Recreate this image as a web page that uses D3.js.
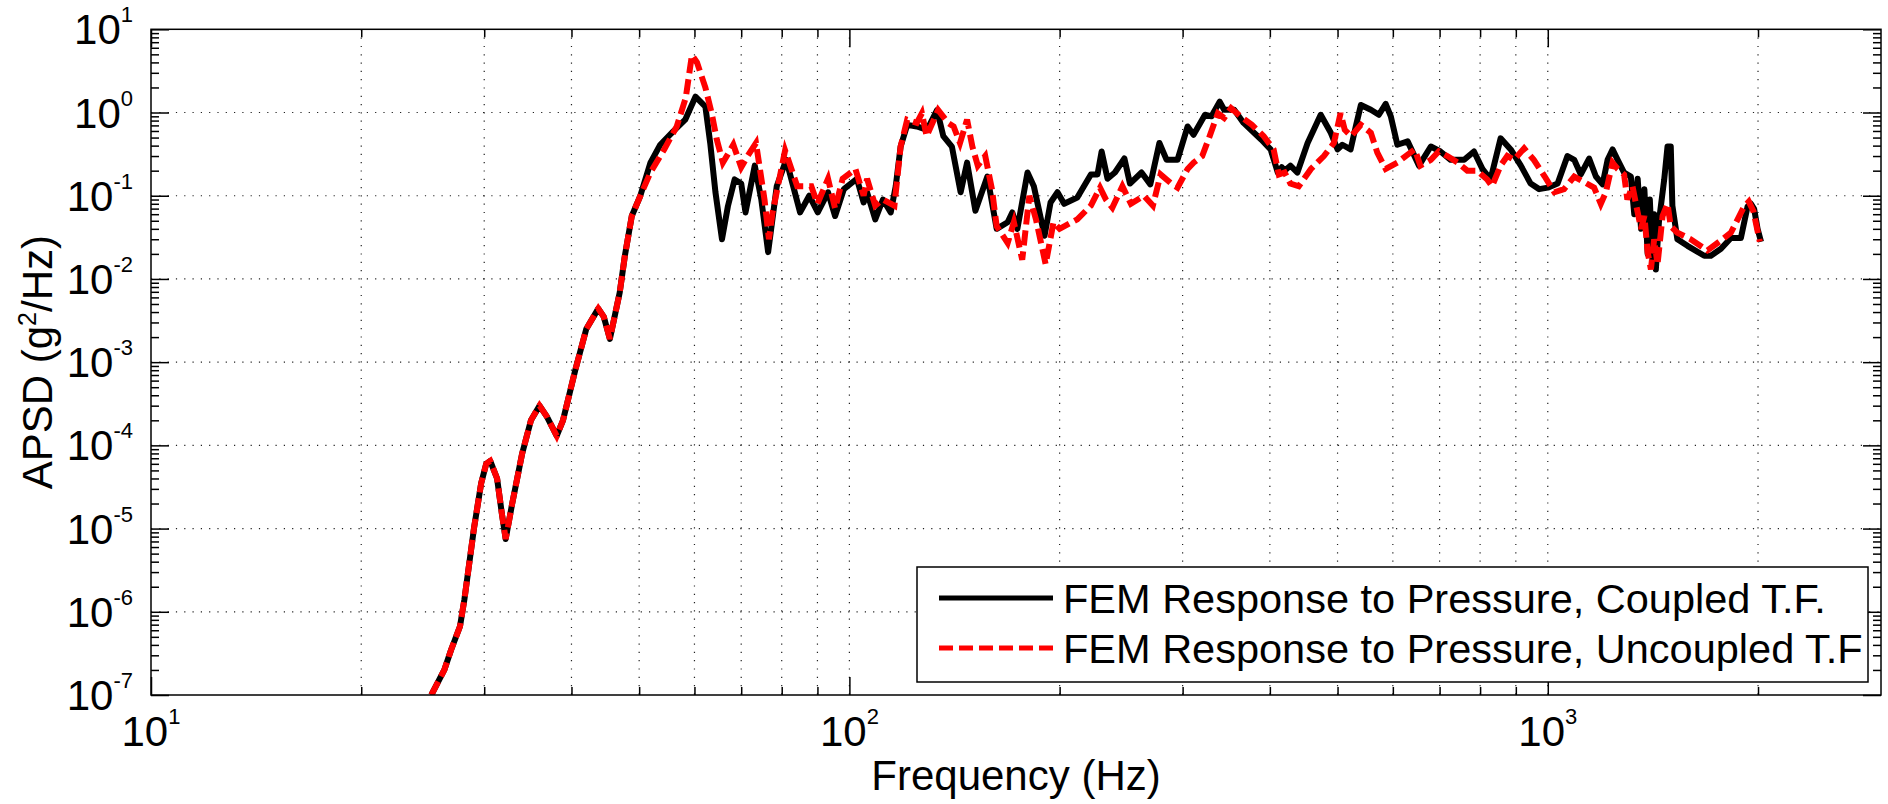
<!DOCTYPE html>
<html>
<head>
<meta charset="utf-8">
<script src="https://cdn.jsdelivr.net/npm/d3@7"></script>
<style>
  body { margin: 0; background: #fff; }
  text { font-family: "Liberation Sans", Arial, Helvetica, sans-serif; fill: #000; }
</style>
</head>
<body>
<div id="chart"></div>
<script>
// common low frequency rise (both transfer functions give the same curve here)
let sharedFreq = [25.2, 26.3, 26.9, 27.7, 28.1, 29.0, 29.7, 30.2, 30.6, 31.3, 31.8, 32.2, 32.9, 34.0, 35.0, 36.0, 36.9, 38.1, 38.9, 40.5, 42.0, 43.7, 44.5, 45.4, 46.9, 47.7, 48.8, 50.2]
let sharedApsd = [1e-7, 2e-7, 3.5e-7, 6.7e-7, 1.4e-6, 1e-5, 3.5e-5, 6e-5, 6.5e-5, 4e-5, 1.5e-5, 7.5e-6, 2e-5, 8e-5, 2e-4, 3e-4, 2.2e-4, 1.3e-4, 2e-4, 8e-4, 2.5e-3, 4.4e-3, 3.5e-3, 1.9e-3, 6.9e-3, 0.019, 0.057, 0.1]

// coupled T.F. (black solid)
let coupledFreq = [51.9, 53.6, 55.9, 58.2, 60.2, 62.2, 63.2, 64.3, 65.7, 67.0, 68.5, 70.0, 71.0, 73.2, 74.8, 76.5, 78.7, 81.2, 83.3, 85.0, 87.6, 90.1, 93.2, 95.4, 98.2, 102.5, 104.8, 106, 108.9, 111.7, 114.6, 116.5, 118.4, 121, 124.9, 129.2, 133.5, 136.3, 140.2, 144.3, 147.4, 151.5, 157.6, 162.5, 168.5, 171.1, 174, 179.9, 183.7, 190.3, 194.1, 198.6, 203, 212, 221.7, 226.6, 229.7, 234.2, 240, 247.6, 252.2, 262, 269.7, 277.9, 284.6, 295, 305, 311, 323, 330, 339, 344, 355.6, 366.8, 389, 401, 410.6, 416, 420, 428, 438, 453, 473, 489, 500, 508, 522, 531, 540, 558, 573, 586, 596, 609, 630, 654, 680, 702, 726, 759, 784, 806, 828, 856, 885, 915, 945, 972, 1000, 1033, 1067, 1091, 1115, 1146, 1172, 1198, 1218, 1238, 1259, 1286, 1315, 1330, 1345, 1360, 1375, 1390, 1400, 1413, 1420, 1428, 1443, 1468, 1484, 1500, 1508, 1533, 1585, 1675, 1712, 1770, 1829, 1890, 1932, 1954, 1975, 1997, 2020]
let coupledApsd = [0.25, 0.41, 0.59, 0.82, 1.55, 1.18, 0.43, 0.11, 0.030, 0.075, 0.157, 0.14, 0.063, 0.23, 0.09, 0.021, 0.13, 0.27, 0.12, 0.063, 0.1, 0.063, 0.11, 0.057, 0.12, 0.16, 0.083, 0.11, 0.052, 0.09, 0.063, 0.13, 0.39, 0.71, 0.68, 0.62, 1.07, 0.52, 0.39, 0.11, 0.25, 0.066, 0.17, 0.04, 0.048, 0.063, 0.04, 0.19, 0.13, 0.033, 0.083, 0.11, 0.08, 0.095, 0.18, 0.18, 0.34, 0.16, 0.19, 0.28, 0.14, 0.19, 0.137, 0.43, 0.27, 0.27, 0.68, 0.54, 0.94, 0.9, 1.35, 1.08, 1.08, 0.75, 0.47, 0.36, 0.19, 0.22, 0.2, 0.23, 0.19, 0.43, 0.94, 0.57, 0.36, 0.41, 0.36, 0.68, 1.23, 1.08, 0.94, 1.27, 0.9, 0.41, 0.45, 0.23, 0.39, 0.34, 0.27, 0.27, 0.34, 0.21, 0.157, 0.49, 0.36, 0.23, 0.14, 0.12, 0.125, 0.14, 0.30, 0.27, 0.18, 0.28, 0.17, 0.137, 0.27, 0.36, 0.27, 0.19, 0.17, 0.06, 0.16, 0.04, 0.12, 0.02, 0.09, 0.015, 0.06, 0.013, 0.05, 0.157, 0.39, 0.39, 0.076, 0.03, 0.025, 0.019, 0.019, 0.023, 0.031, 0.031, 0.074, 0.08, 0.069, 0.04, 0.028]

// uncoupled T.F. (red dashed)
let uncoupledFreq = [51.9, 54.3, 56.6, 58.3, 59.5, 60.5, 62.2, 63.5, 64.6, 65.9, 68.2, 70.0, 71.5, 73.5, 75.6, 76.7, 77.6, 80.9, 84.2, 88.2, 90, 93.2, 95.4, 97.8, 102, 104.8, 106, 108.9, 111.7, 116, 118.4, 121, 124.9, 127, 129, 134, 138.5, 141, 144, 147.4, 150, 152.7, 156.5, 160, 162.5, 168.5, 172, 176.8, 181, 185, 191, 196, 200, 212, 221.7, 228.5, 233, 238, 246, 253, 264, 272, 279, 289, 295, 305, 311, 320, 328, 337, 344, 352, 363, 377, 392, 405, 412, 420, 428, 440, 458, 478, 494, 505, 512, 523, 540, 558, 570, 586, 609, 626, 645, 657, 680, 698, 718, 743, 767, 792, 819, 832, 856, 875, 895, 925, 955, 990, 1022, 1055, 1091, 1121, 1165, 1191, 1211, 1238, 1259, 1286, 1300, 1322, 1345, 1360, 1375, 1390, 1405, 1420, 1436, 1460, 1484, 1500, 1533, 1602, 1693, 1770, 1829, 1910, 1940, 1970, 2005, 2012]
let uncoupledApsd = [0.19, 0.36, 0.68, 1.5, 4.9, 4.0, 2.0, 0.98, 0.47, 0.25, 0.41, 0.22, 0.30, 0.43, 0.089, 0.030, 0.062, 0.35, 0.13, 0.13, 0.08, 0.16, 0.07, 0.16, 0.21, 0.1, 0.16, 0.076, 0.09, 0.076, 0.39, 0.82, 0.75, 0.98, 0.52, 1.07, 0.75, 0.68, 0.43, 0.82, 0.39, 0.23, 0.30, 0.12, 0.043, 0.027, 0.048, 0.017, 0.1, 0.052, 0.015, 0.048, 0.04, 0.052, 0.076, 0.125, 0.09, 0.072, 0.13, 0.08, 0.1, 0.076, 0.18, 0.14, 0.125, 0.21, 0.25, 0.30, 0.52, 0.98, 0.86, 1.13, 0.9, 0.71, 0.52, 0.36, 0.18, 0.19, 0.14, 0.13, 0.21, 0.30, 0.43, 0.98, 0.62, 0.52, 0.71, 0.57, 0.33, 0.21, 0.25, 0.30, 0.36, 0.23, 0.27, 0.34, 0.30, 0.25, 0.2, 0.2, 0.157, 0.13, 0.23, 0.30, 0.27, 0.37, 0.27, 0.17, 0.11, 0.12, 0.17, 0.15, 0.125, 0.08, 0.11, 0.25, 0.21, 0.18, 0.09, 0.13, 0.063, 0.04, 0.057, 0.021, 0.013, 0.03, 0.015, 0.057, 0.08, 0.043, 0.036, 0.03, 0.022, 0.029, 0.036, 0.074, 0.085, 0.065, 0.032, 0.028]

// axis ticks and labels
let xDecades = [10, 100, 1000]
let xExponents = ["1", "2", "3"]
let yDecades = [1e-7, 1e-6, 1e-5, 1e-4, 1e-3, 1e-2, 1e-1, 1, 10]
let yExponents = ["-7", "-6", "-5", "-4", "-3", "-2", "-1", "0", "1"]
let legendLabels = ["FEM Response to Pressure, Coupled T.F.", "FEM Response to Pressure, Uncoupled T.F"]

let width = 1888,
    height = 804,
    plotLeft = 151,
    plotRight = 1881,
    plotTop = 29.3,
    plotBottom = 695

let svg = d3.select("#chart")
  .append("svg")
    .attr("width", width)
    .attr("height", height)

let x = d3.scaleLog().domain([10, 3000]).range([plotLeft, plotRight])
let y = d3.scaleLog().domain([1e-7, 10]).range([plotBottom, plotTop])

// minor ticks: 2..9 times each decade
let xMinor = []
xDecades.forEach(function(d) { for (let m = 2; m <= 9; m++) if (d * m < 3000) xMinor.push(d * m) })
let yMinor = []
yDecades.slice(0, -1).forEach(function(d) { for (let m = 2; m <= 9; m++) yMinor.push(d * m) })

// dotted grid
let grid = svg.append("g")
  .attr("stroke", "#222")
  .attr("stroke-width", 1.2)
  .attr("stroke-dasharray", "1.2,7.1")
grid.selectAll(".gx")
  .data(xMinor.concat([100, 1000]))
  .enter().append("line")
    .attr("x1", function(d) { return x(d) }).attr("x2", function(d) { return x(d) })
    .attr("y1", plotTop).attr("y2", plotBottom)
grid.selectAll(".gy")
  .data(yDecades.slice(1, -1))
  .enter().append("line")
    .attr("y1", function(d) { return y(d) }).attr("y2", function(d) { return y(d) })
    .attr("x1", plotLeft).attr("x2", plotRight)

// ticks on all four sides, pointing inward
function ticks(axisFn, scale, values, size, tx, ty) {
  let g = svg.append("g")
    .attr("transform", "translate(" + tx + "," + ty + ")")
    .call(axisFn(scale).tickValues(values).tickSize(-size).tickFormat(""))
  g.select(".domain").remove()
  g.selectAll("line").attr("stroke", "#000").attr("stroke-width", 1.5)
}
ticks(d3.axisBottom, x, xMinor, 8, 0, plotBottom)
ticks(d3.axisBottom, x, xDecades, 18, 0, plotBottom)
ticks(d3.axisTop, x, xMinor, 8, 0, plotTop)
ticks(d3.axisTop, x, xDecades, 18, 0, plotTop)
ticks(d3.axisLeft, y, yMinor, 8, plotLeft, 0)
ticks(d3.axisLeft, y, yDecades, 18, plotLeft, 0)
ticks(d3.axisRight, y, yMinor, 8, plotRight, 0)
ticks(d3.axisRight, y, yDecades, 18, plotRight, 0)

// clip the curves to the axes box
svg.append("clipPath").attr("id", "plotArea")
  .append("rect")
    .attr("x", plotLeft).attr("y", plotTop)
    .attr("width", plotRight - plotLeft).attr("height", plotBottom - plotTop)

let line = d3.line()
  .x(function(d) { return x(d[0]) })
  .y(function(d) { return y(d[1]) })

let coupled = d3.zip(sharedFreq.concat(coupledFreq), sharedApsd.concat(coupledApsd))
let uncoupled = d3.zip(sharedFreq.concat(uncoupledFreq), sharedApsd.concat(uncoupledApsd))

let curves = svg.append("g").attr("clip-path", "url(#plotArea)")
curves.append("path")
  .datum(coupled)
  .attr("d", line)
  .attr("fill", "none")
  .attr("stroke", "#000")
  .attr("stroke-width", 6)
  .attr("stroke-linejoin", "round")
curves.append("path")
  .datum(uncoupled)
  .attr("d", line)
  .attr("fill", "none")
  .attr("stroke", "#ff0000")
  .attr("stroke-width", 6)
  .attr("stroke-dasharray", "15,6")

// axes box
svg.append("rect")
  .attr("x", plotLeft).attr("y", plotTop)
  .attr("width", plotRight - plotLeft).attr("height", plotBottom - plotTop)
  .attr("fill", "none")
  .attr("stroke", "#000")
  .attr("stroke-width", 1.5)

// tick labels with superscript exponents
svg.selectAll(".xl")
  .data(xDecades)
  .enter().append("text")
    .attr("x", function(d) { return x(d) })
    .attr("y", 746)
    .attr("text-anchor", "middle")
    .style("font-size", "42px")
    .each(function(d, i) {
      let t = d3.select(this)
      t.append("tspan").text("10")
      t.append("tspan").attr("dy", -22).style("font-size", "22px").text(xExponents[i])
    })

svg.selectAll(".yl")
  .data(yDecades)
  .enter().append("text")
    .attr("x", 133)
    .attr("y", function(d) { return y(d) + 15 })
    .attr("text-anchor", "end")
    .style("font-size", "42px")
    .each(function(d, i) {
      let t = d3.select(this)
      t.append("tspan").text("10")
      t.append("tspan").attr("dy", -22).style("font-size", "22px").text(yExponents[i])
    })

// axis titles
svg.append("text")
  .attr("x", (plotLeft + plotRight) / 2)
  .attr("y", 790)
  .attr("text-anchor", "middle")
  .style("font-size", "42px")
  .text("Frequency (Hz)")

let yTitle = svg.append("text")
  .attr("transform", "translate(52," + (plotTop + plotBottom) / 2 + ") rotate(-90)")
  .attr("text-anchor", "middle")
  .style("font-size", "42px")
yTitle.append("tspan").text("APSD (g")
yTitle.append("tspan").attr("dy", -16).style("font-size", "25px").text("2")
yTitle.append("tspan").attr("dy", 16).text("/Hz)")

// legend
let legend = svg.append("g")
legend.append("rect")
  .attr("x", 917).attr("y", 567)
  .attr("width", 951).attr("height", 115)
  .attr("fill", "#fff")
  .attr("stroke", "#000")
  .attr("stroke-width", 1.5)

let legendStyles = [{color: "#000", dash: null}, {color: "#ff0000", dash: "14,6"}]
legendLabels.forEach(function(label, i) {
  let cy = 598 + i * 50
  legend.append("line")
    .attr("x1", 939).attr("x2", 1053)
    .attr("y1", cy).attr("y2", cy)
    .attr("stroke", legendStyles[i].color)
    .attr("stroke-width", 5)
    .attr("stroke-dasharray", legendStyles[i].dash)
  legend.append("text")
    .attr("x", 1063)
    .attr("y", cy + 15)
    .style("font-size", "41.5px")
    .text(label)
})
</script>
</body>
</html>
